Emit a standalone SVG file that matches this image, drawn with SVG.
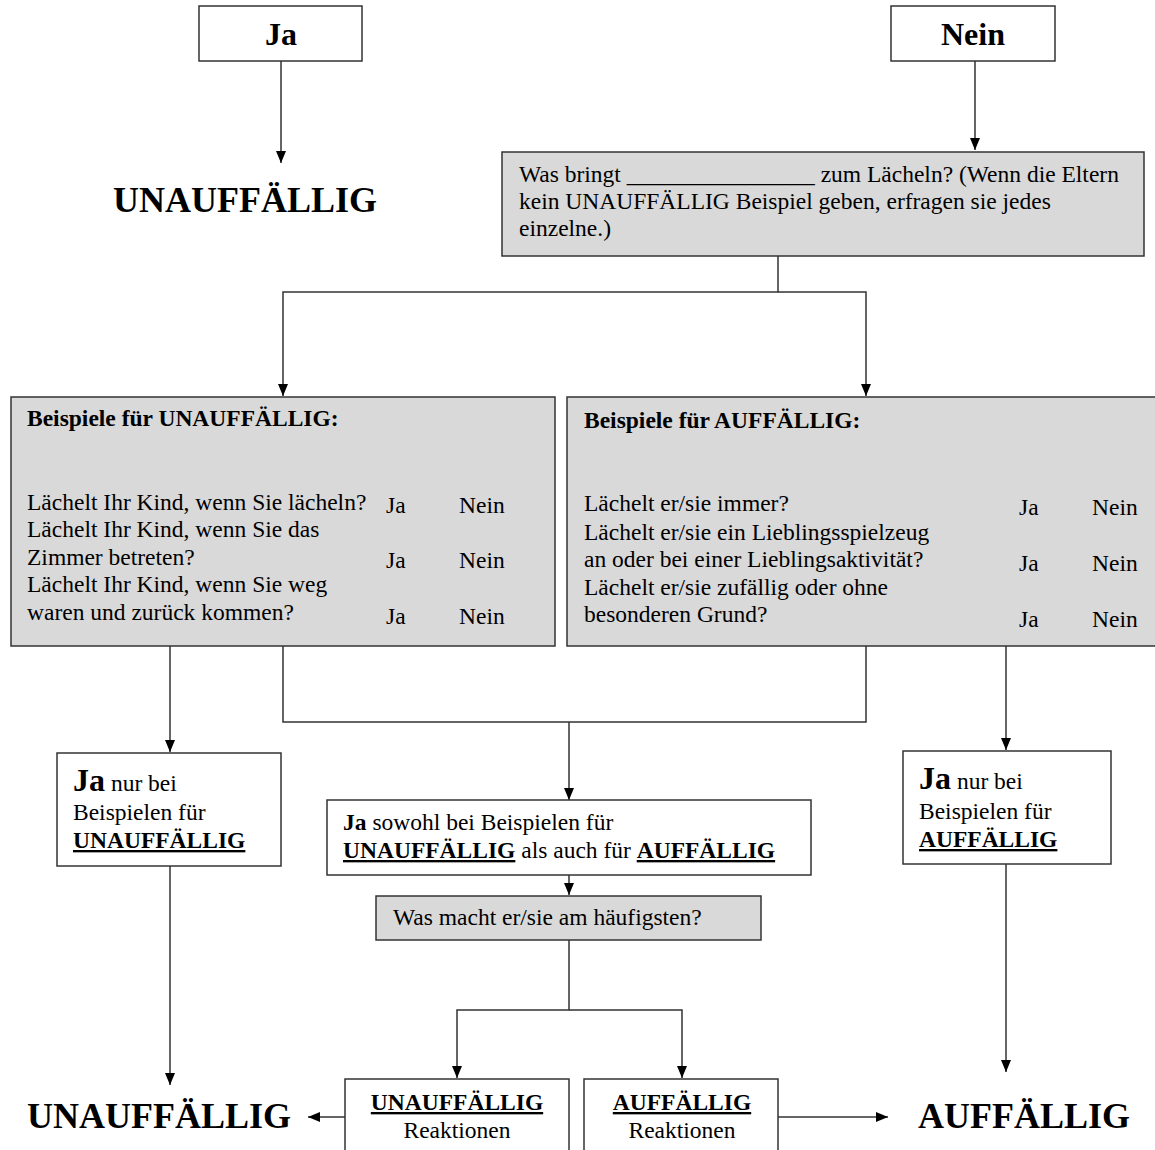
<svg xmlns="http://www.w3.org/2000/svg" width="1155" height="1150" viewBox="0 0 1155 1150">
<style>
text{font-family:"Liberation Serif","Times New Roman",serif;fill:#000}
.box{fill:#fff;stroke:#333;stroke-width:1.5}
.gbox{fill:#d9d9d9;stroke:#333;stroke-width:1.5}
.r{font-size:23.5px}
.b{font-weight:bold}
.t{font-size:23.5px;font-weight:bold}
.big{font-size:36px;font-weight:bold}
.j{font-size:32px;font-weight:bold}
.u{text-decoration:underline}
.c{fill:none;stroke:#333;stroke-width:1.5}
</style>
<defs>
<marker id="ah" viewBox="0 0 12 10" refX="12" refY="5" markerWidth="12" markerHeight="10" markerUnits="userSpaceOnUse" orient="auto">
<path d="M0,0 L12,5 L0,10 z" fill="#000"/>
</marker>
</defs>
<g id="connectors">
<path class="c" d="M281,61 V163" marker-end="url(#ah)"/>
<path class="c" d="M975,61 V150" marker-end="url(#ah)"/>
<path class="c" d="M778,256 V292 H283 V396" marker-end="url(#ah)"/>
<path class="c" d="M778,292 H866 V396" marker-end="url(#ah)"/>
<path class="c" d="M170,646 V752" marker-end="url(#ah)"/>
<path class="c" d="M283,646 V722 H866 V646"/>
<path class="c" d="M569,722 V800" marker-end="url(#ah)"/>
<path class="c" d="M1006,646 V750" marker-end="url(#ah)"/>
<path class="c" d="M170,866 V1085" marker-end="url(#ah)"/>
<path class="c" d="M569,875 V895" marker-end="url(#ah)"/>
<path class="c" d="M569,940 V1010 H457 V1078" marker-end="url(#ah)"/>
<path class="c" d="M569,1010 H682 V1078" marker-end="url(#ah)"/>
<path class="c" d="M345,1117 H308" marker-end="url(#ah)"/>
<path class="c" d="M778,1117 H888" marker-end="url(#ah)"/>
<path class="c" d="M1006,864 V1072" marker-end="url(#ah)"/>
</g>
<g id="ja">
<rect class="box" x="199" y="6" width="163" height="55"/>
<text class="j" x="281" y="45" text-anchor="middle">Ja</text>
</g>
<g id="nein">
<rect class="box" x="891" y="6" width="164" height="55"/>
<text class="j" x="973" y="45" text-anchor="middle">Nein</text>
</g>
<g id="unauf-top">
<text class="big" x="245" y="212" text-anchor="middle">UNAUFFÄLLIG</text>
</g>
<g id="frage">
<rect class="gbox" x="502" y="152" width="642" height="104"/>
<text class="r" x="519" y="182">Was bringt ________________ zum Lächeln? (Wenn die Eltern</text>
<text class="r" x="519" y="209">kein UNAUFFÄLLIG Beispiel geben, erfragen sie jedes</text>
<text class="r" x="519" y="236">einzelne.)</text>
</g>
<g id="beispiele-unauf">
<rect class="gbox" x="11" y="397" width="544" height="249"/>
<text class="t" x="27" y="426">Beispiele für UNAUFFÄLLIG:</text>
<text class="r" x="27" y="510">Lächelt Ihr Kind, wenn Sie lächeln?</text>
<text class="r" x="27" y="537">Lächelt Ihr Kind, wenn Sie das</text>
<text class="r" x="27" y="565">Zimmer betreten?</text>
<text class="r" x="27" y="592">Lächelt Ihr Kind, wenn Sie weg</text>
<text class="r" x="27" y="620">waren und zurück kommen?</text>
<text class="r" x="386" y="513">Ja</text><text class="r" x="459" y="513">Nein</text>
<text class="r" x="386" y="568">Ja</text><text class="r" x="459" y="568">Nein</text>
<text class="r" x="386" y="624">Ja</text><text class="r" x="459" y="624">Nein</text>
</g>
<g id="beispiele-auf">
<rect class="gbox" x="567" y="397" width="600" height="249"/>
<text class="t" x="584" y="428">Beispiele für AUFFÄLLIG:</text>
<text class="r" x="584" y="511">Lächelt er/sie immer?</text>
<text class="r" x="584" y="540">Lächelt er/sie ein Lieblingsspielzeug</text>
<text class="r" x="584" y="567">an oder bei einer Lieblingsaktivität?</text>
<text class="r" x="584" y="595">Lächelt er/sie zufällig oder ohne</text>
<text class="r" x="584" y="622">besonderen Grund?</text>
<text class="r" x="1019" y="515">Ja</text><text class="r" x="1092" y="515">Nein</text>
<text class="r" x="1019" y="571">Ja</text><text class="r" x="1092" y="571">Nein</text>
<text class="r" x="1019" y="627">Ja</text><text class="r" x="1092" y="627">Nein</text>
</g>
<g id="ja-unauf">
<rect class="box" x="57" y="753" width="224" height="113"/>
<text x="73" y="791"><tspan class="j">Ja</tspan><tspan class="r"> nur bei</tspan></text>
<text class="r" x="73" y="820">Beispielen für</text>
<text class="r b u" x="73" y="848">UNAUFFÄLLIG</text>
</g>
<g id="ja-beide">
<rect class="box" x="327" y="800" width="484" height="75"/>
<text class="r" x="343" y="830"><tspan class="b">Ja</tspan> sowohl bei Beispielen für</text>
<text class="r" x="343" y="858"><tspan class="b u">UNAUFFÄLLIG</tspan> als auch für <tspan class="b u">AUFFÄLLIG</tspan></text>
</g>
<g id="haeufig">
<rect class="gbox" x="376" y="896" width="385" height="44"/>
<text class="r" x="393" y="925">Was macht er/sie am häufigsten?</text>
</g>
<g id="ja-auf">
<rect class="box" x="903" y="751" width="208" height="113"/>
<text x="919" y="789"><tspan class="j">Ja</tspan><tspan class="r"> nur bei</tspan></text>
<text class="r" x="919" y="819">Beispielen für</text>
<text class="r b u" x="919" y="847">AUFFÄLLIG</text>
</g>
<g id="reak-unauf">
<rect class="box" x="345" y="1079" width="224" height="90"/>
<text class="r b u" x="457" y="1110" text-anchor="middle">UNAUFFÄLLIG</text>
<text class="r" x="457" y="1138" text-anchor="middle">Reaktionen</text>
</g>
<g id="reak-auf">
<rect class="box" x="584" y="1079" width="194" height="90"/>
<text class="r b u" x="682" y="1110" text-anchor="middle">AUFFÄLLIG</text>
<text class="r" x="682" y="1138" text-anchor="middle">Reaktionen</text>
</g>
<g id="unauf-bottom">
<text class="big" x="159" y="1128" text-anchor="middle">UNAUFFÄLLIG</text>
</g>
<g id="auf-bottom">
<text class="big" x="1024" y="1128" text-anchor="middle">AUFFÄLLIG</text>
</g>
</svg>
